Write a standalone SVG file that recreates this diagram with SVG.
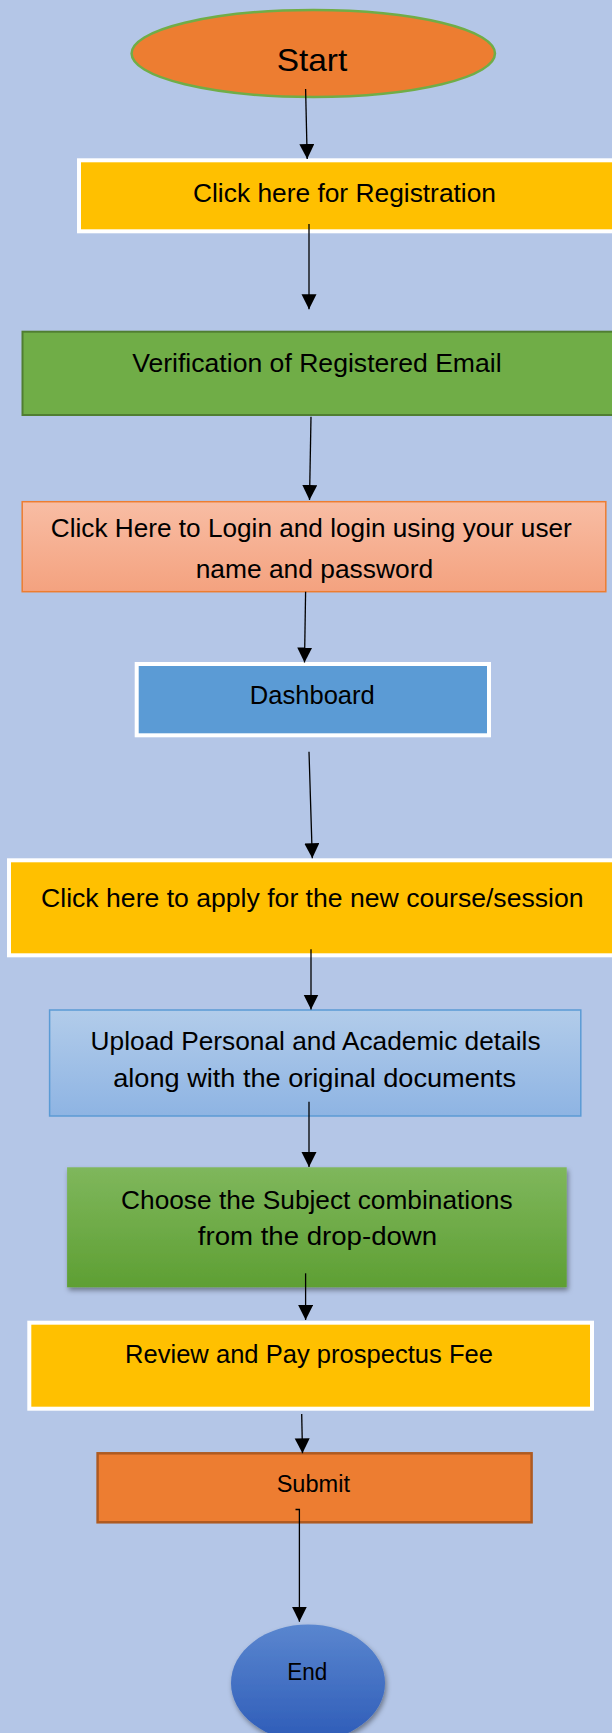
<svg xmlns="http://www.w3.org/2000/svg" width="612" height="1733" viewBox="0 0 612 1733">
<defs>
<style>
text{font-family:"Liberation Sans",Arial,sans-serif;fill:#000;text-anchor:middle}
.t{font-size:26.3px}
.wb{stroke:#FFFFFF;stroke-width:4}
.cn{fill:none;stroke:#000;stroke-width:1.3;marker-end:url(#ah)}
</style>
<marker id="ah" markerUnits="userSpaceOnUse" markerWidth="16" markerHeight="16" refX="15" refY="7.5" orient="auto">
<path d="M0,0 L15,7.5 L0,15 Z" fill="#000"/>
</marker>
<linearGradient id="gSalmon" x1="0" y1="0" x2="0" y2="1"><stop offset="0" stop-color="#F8BDA4"/><stop offset="1" stop-color="#F4A27F"/></linearGradient>
<linearGradient id="gBlue" x1="0" y1="0" x2="0" y2="1"><stop offset="0" stop-color="#B2CCEA"/><stop offset="1" stop-color="#8EB4E3"/></linearGradient>
<linearGradient id="gGreen" x1="0" y1="0" x2="0" y2="1"><stop offset="0" stop-color="#7FB75C"/><stop offset="1" stop-color="#5E9F33"/></linearGradient>
<linearGradient id="gEnd" x1="0" y1="0" x2="0" y2="1"><stop offset="0" stop-color="#5A86CF"/><stop offset="1" stop-color="#2E5CB8"/></linearGradient>
<filter id="sh" x="-10%" y="-10%" width="125%" height="130%"><feDropShadow dx="1.5" dy="3" stdDeviation="2.5" flood-color="#000" flood-opacity="0.4"/></filter>
</defs>
<rect x="0" y="0" width="612" height="1733" fill="#B4C6E7"/>

<g id="start">
<ellipse cx="313.3" cy="53.5" rx="181.7" ry="43.5" fill="#ED7D31" stroke="#70AD47" stroke-width="2.5"/>
<text x="312" y="70.7" font-size="32" textLength="70.6" lengthAdjust="spacingAndGlyphs">Start</text>
</g>

<g id="registration">
<rect x="79" y="160.3" width="560" height="71" fill="#FFC000" class="wb"/>
<text class="t" x="344.5" y="201.7" textLength="303" lengthAdjust="spacingAndGlyphs">Click here for Registration</text>
</g>

<g id="verification">
<rect x="22.5" y="331.7" width="620" height="83.3" fill="#70AD47" stroke="#507E32" stroke-width="2"/>
<text class="t" x="316.9" y="371.7" textLength="369.5" lengthAdjust="spacingAndGlyphs">Verification of Registered Email</text>
</g>

<g id="login">
<rect x="22.2" y="501.7" width="583.6" height="90" fill="url(#gSalmon)" stroke="#ED7D31" stroke-width="1.5"/>
<text class="t" x="311.3" y="537.3" textLength="521" lengthAdjust="spacingAndGlyphs">Click Here to Login and login using your user</text>
<text class="t" x="314.4" y="577.5" textLength="237.5" lengthAdjust="spacingAndGlyphs">name and password</text>
</g>

<g id="dashboard">
<rect x="136.7" y="664" width="352.3" height="71.3" fill="#5B9BD5" class="wb"/>
<text class="t" x="312.3" y="704" textLength="125" lengthAdjust="spacingAndGlyphs">Dashboard</text>
</g>

<g id="apply">
<rect x="9" y="860.3" width="640" height="95" fill="#FFC000" class="wb"/>
<text class="t" x="312.3" y="906.7" textLength="542.5" lengthAdjust="spacingAndGlyphs">Click here to apply for the new course/session</text>
</g>

<g id="upload">
<rect x="49.6" y="1010" width="531.2" height="106" fill="url(#gBlue)" stroke="#5B9BD5" stroke-width="1.5"/>
<text class="t" x="315.6" y="1050" textLength="450" lengthAdjust="spacingAndGlyphs">Upload Personal and Academic details</text>
<text class="t" x="314.6" y="1087.3" textLength="402.8" lengthAdjust="spacingAndGlyphs">along with the original documents</text>
</g>

<g id="subjects">
<rect x="67.1" y="1167.3" width="499.6" height="120" fill="url(#gGreen)" filter="url(#sh)"/>
<text class="t" x="316.8" y="1209.3" textLength="391.5" lengthAdjust="spacingAndGlyphs">Choose the Subject combinations</text>
<text class="t" x="317.5" y="1245" textLength="239.3" lengthAdjust="spacingAndGlyphs">from the drop-down</text>
</g>

<g id="review">
<rect x="29.3" y="1322.7" width="562.7" height="86" fill="#FFC000" class="wb"/>
<text class="t" x="309" y="1363.3" textLength="368" lengthAdjust="spacingAndGlyphs">Review and Pay prospectus Fee</text>
</g>

<g id="submit">
<rect x="97.6" y="1453.3" width="434" height="69" fill="#ED7D31" stroke="#AE5A21" stroke-width="2.5"/>
<text x="313.3" y="1491.7" font-size="23.5" textLength="73.3" lengthAdjust="spacingAndGlyphs">Submit</text>
</g>

<g id="end">
<ellipse cx="308" cy="1683" rx="77" ry="58.5" fill="url(#gEnd)" filter="url(#sh)"/>
<text x="307.3" y="1680" font-size="23" textLength="40" lengthAdjust="spacingAndGlyphs">End</text>
</g>

<g id="connectors">
<path class="cn" d="M305.6,89 L307.2,159"/>
<path class="cn" d="M309,224 L309,309.3"/>
<path class="cn" d="M311,416.7 L309.5,500"/>
<path class="cn" d="M305.6,591.7 L304.5,662.5"/>
<path class="cn" d="M309,751.7 L312.3,858.3"/>
<path class="cn" d="M311,949.3 L311,1009.5"/>
<path class="cn" d="M309,1101.7 L309,1167"/>
<path class="cn" d="M305.6,1273.3 L305.6,1320"/>
<path class="cn" d="M301.7,1414 L302.5,1453.3"/>
<path class="cn" d="M295.5,1509.5 H299.4 V1621.7"/>
</g>
</svg>
